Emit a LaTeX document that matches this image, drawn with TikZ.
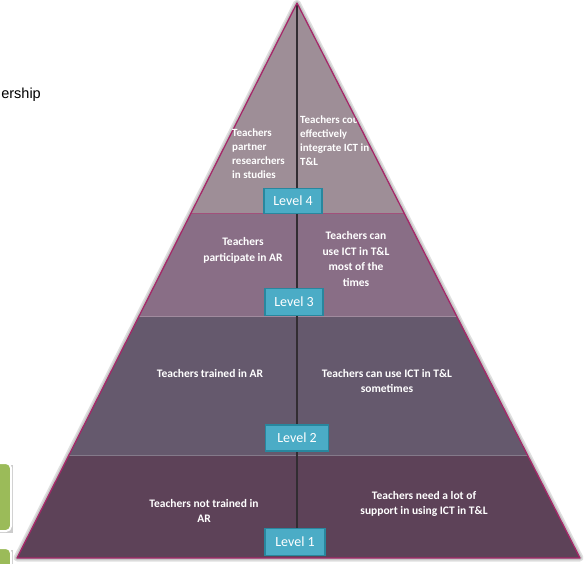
\documentclass[tikz,border=0pt]{standalone}
\usepackage{fontspec}
\setmainfont{Carlito}
\newfontfamily\arialfont{Liberation Sans}
\begin{document}
\begin{tikzpicture}[x=1pt,y=-1pt,
  bandtext/.style={text=white,font=\bfseries\fontsize{11.5}{15.8}\selectfont,align=center,inner sep=0pt},
  topbandtext/.style={text=white,font=\bfseries\fontsize{11}{14}\selectfont,align=left,anchor=west,inner sep=0pt},
  levelbox/.style={draw=levelborder,line width=1.6pt,fill=levelfill,text=white,font=\fontsize{14}{16}\selectfont,inner sep=0pt},
  greenbox/.style={fill=greenfill,draw=white,line width=2pt,rounded corners=5pt}]
\definecolor{bandfour}{RGB}{158,142,151}
\definecolor{bandthree}{RGB}{137,110,134}
\definecolor{bandtwo}{RGB}{101,89,109}
\definecolor{bandone}{RGB}{93,66,88}
\definecolor{edgecol}{RGB}{165,40,105}
\definecolor{levelfill}{RGB}{75,172,198}
\definecolor{levelborder}{RGB}{40,135,158}
\definecolor{greenfill}{RGB}{155,187,89}
\definecolor{midline}{RGB}{50,45,50}
\useasboundingbox (0,0) rectangle (588,563);
\fill[white] (0,0) rectangle (588,563);
% coordinates of the triangle
\coordinate (apex) at (297,3);
\coordinate (bl) at (17,558);
\coordinate (br) at (580,558);
% soft shadow
\draw[gray!25,line width=7pt,line join=round] (apex) -- (bl) -- (br) -- cycle;
\draw[gray!45,line width=4pt,line join=round] (apex) -- (bl) -- (br) -- cycle;
\begin{scope}
\clip (apex) -- (bl) -- (br) -- cycle;
\fill[bandfour] (0,0) rectangle (588,213);
\fill[bandthree] (0,213) rectangle (588,316);
\fill[bandtwo] (0,316) rectangle (588,455);
\fill[bandone] (0,455) rectangle (588,563);
\draw[edgecol!60!bandfour,line width=0.8pt] (0,213) -- (588,213);
\draw[bandthree!80!white,line width=0.5pt] (0,316) -- (588,316);
\draw[bandtwo!80!white,line width=0.5pt] (0,455) -- (588,455);
\coordinate (lineend) at (297,530);
\draw[midline,line width=1.1pt] (apex) -- (lineend);
\node[topbandtext] (t4r) at (300,140.5) {Teachers could\\effectively\\integrate ICT in\\T\&L};
\end{scope}
\draw[edgecol,line width=1.3pt,line join=round] (apex) -- (bl) -- (br) -- cycle;
\node[topbandtext] (t4l) at (232,154) {Teachers\\partner\\researchers\\in studies};
\node[bandtext] (t3l) at (243,250.5) {Teachers\\participate in AR};
\node[bandtext] (t3r) at (356,259) {Teachers can\\use ICT in T\&L\\most of the\\times};
\node[bandtext] (t2l) at (210,373) {Teachers trained in AR};
\node[bandtext] (t2r) at (387,381) {Teachers can use ICT in T\&L\\sometimes};
\node[bandtext] (t1l) at (204,511) {Teachers not trained in\\AR};
\node[bandtext] (t1r) at (424,504) {Teachers need a lot of\\support in using ICT in T\&L};
% level boxes
\node[levelbox,minimum width=58pt,minimum height=25pt] (lv4) at (293,201) {Level 4};
\node[levelbox,minimum width=58pt,minimum height=27pt] (lv3) at (294,302) {Level 3};
\node[levelbox,minimum width=63pt,minimum height=26pt] (lv2) at (297,438) {Level 2};
\node[levelbox,minimum width=60pt,minimum height=27pt] (lv1) at (295,542) {Level 1};
% left side fragments
\node[anchor=east,inner sep=0pt,font=\arialfont\fontsize{14.5}{16}\selectfont] (lead) at (41,95) {ership};
\fill[gray!40] (-10,465) rectangle (13,533);
\draw[greenbox] (-10,463) rectangle (11,531);
\fill[gray!40] (-10,550) rectangle (13,575);
\draw[greenbox] (-10,548) rectangle (11,575);
\end{tikzpicture}
\end{document}
